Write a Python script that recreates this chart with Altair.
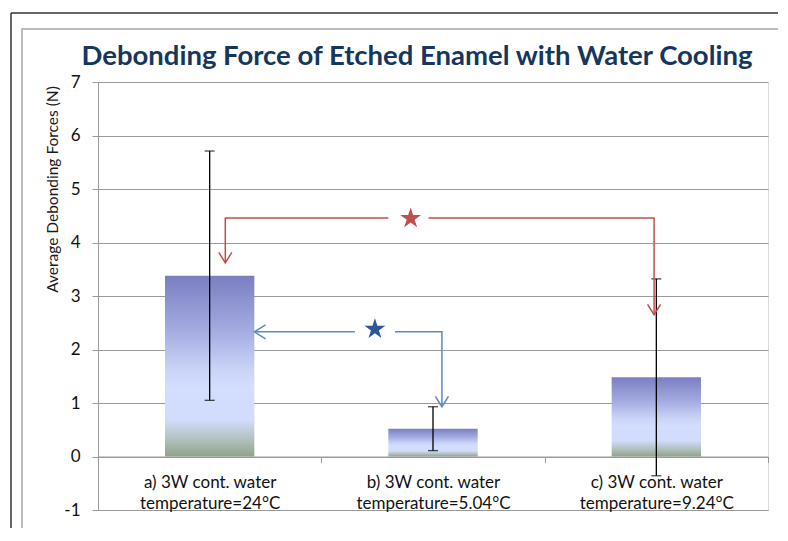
import json
import altair as alt
import pandas as pd

# ---------------- data ----------------
title_text = "Debonding Force of Etched Enamel with Water Cooling"
line1 = ["a) 3W cont. water", "b) 3W cont. water", "c) 3W cont. water"]
line2 = ["temperature=24°C", "temperature=5.04°C", "temperature=9.24°C"]
centers = [0.5, 1.5, 2.5]
means = [3.38, 0.52, 1.48]
errors = [2.33, 0.41, 1.84]
boundaries = [0, 1, 2, 3]
y_ticks = [-1, 0, 1, 2, 3, 4, 5, 6, 7]

# significance brackets (data coordinates)
red_seg = ["r1", "r1", "r1", "r2", "r2", "r2"]
red_x = [0.57, 0.57, 1.30, 1.48, 2.49, 2.49]
red_y = [3.62, 4.46, 4.46, 4.46, 4.46, 2.65]
blue_seg = ["b1", "b1", "b2", "b2", "b2"]
blue_x = [0.70, 1.15, 1.33, 1.54, 1.54]
blue_y = [2.33, 2.33, 2.33, 2.33, 0.93]
red_star = (1.40, 4.45)
blue_star = (1.24, 2.38)
red_arrows_x = [0.57, 2.49]
red_arrows_y = [3.62, 2.65]
blue_left_arrow = (0.70, 2.33)
blue_down_arrow = (1.54, 0.93)

FONT = "Lato"
GRID = "#9a9a9a"
RED = "#C0504D"
BLUE_LINE = "#5B8AC0"
BLUE_STAR = "#2F5597"
HALF = 0.2

bars_df = pd.DataFrame({
    "center": centers,
    "lo": [c - HALF for c in centers],
    "hi": [c + HALF for c in centers],
    "mean": means,
    "low": [m - e for m, e in zip(means, errors)],
    "high": [m + e for m, e in zip(means, errors)],
})
caps_df = pd.DataFrame({
    "center": centers + centers,
    "v": list(bars_df["low"]) + list(bars_df["high"]),
})

lines_df = pd.DataFrame({
    "seg": red_seg + blue_seg,
    "x": red_x + blue_x,
    "y": red_y + blue_y,
    "col": [RED] * len(red_seg) + [BLUE_LINE] * len(blue_seg),
    "ord": list(range(len(red_seg) + len(blue_seg))),
})

# label expression built from the arrays
parts = []
for c, a, b in zip(centers, line1, line2):
    parts.append(f"datum.value == {c} ? [{json.dumps(a)}, {json.dumps(b)}] : ")
label_expr = "".join(parts) + "''"

xscale = alt.Scale(domain=[0, 3], nice=False, zero=False)
yscale = alt.Scale(domain=[-1, 7], nice=False)

gradient = alt.LinearGradient(
    gradient="linear", x1=0, y1=0, x2=0, y2=1,
    stops=[
        alt.GradientStop(color="#7A7FC0", offset=0.0),
        alt.GradientStop(color="#A3ABE1", offset=0.3),
        alt.GradientStop(color="#CAD4F7", offset=0.52),
        alt.GradientStop(color="#D3DDFD", offset=0.62),
        alt.GradientStop(color="#D1DBFB", offset=0.8),
        alt.GradientStop(color="#B3C2C2", offset=0.9),
        alt.GradientStop(color="#8FA38B", offset=1.0),
    ],
)

x_axis = alt.Axis(
    values=sorted(boundaries + centers), labelExpr=label_expr,
    offset=-53.5, grid=False, title=None,
    domainColor=GRID, domainWidth=1,
    tickColor=alt.condition("datum.value % 1 == 0", alt.value(GRID), alt.value("transparent")),
    tickSize=6, labelPadding=12, labelFont=FONT, labelFontSize=17,
    labelColor="#111111", labelLineHeight=21, labelOverlap=False, labelFlush=False,
    labelBaseline="top",
)
y_axis = alt.Axis(
    values=y_ticks, labelExpr="'' + datum.value", title="Average Debonding Forces (N)", grid=True,
    gridColor=GRID, gridWidth=1, domainColor=GRID, tickColor=GRID, tickSize=6,
    labelPadding=12, labelFont=FONT, labelFontSize=17, labelColor="#111111",
    titleFont=FONT, titleFontSize=15.5, titleFontWeight="normal", titleColor="#1a1a1a",
    titleX=-46, titleY=107, titleAngle=-90, titleAlign="center", titleBaseline="middle",
)

one = pd.DataFrame({"k": [0]})

frame_inner = alt.Chart(one).mark_rect(fillOpacity=0, stroke="#A6A6A6", strokeWidth=1.5).encode(
    x=alt.value(-76), x2=alt.value(720), y=alt.value(-53), y2=alt.value(449))
frame_left = alt.Chart(one).mark_rule(color="#333333", strokeWidth=1.5).encode(
    x=alt.value(-87), y=alt.value(-69), y2=alt.value(460))
frame_top = alt.Chart(one).mark_rule(color="#333333", strokeWidth=1.5).encode(
    x=alt.value(-87), x2=alt.value(720), y=alt.value(-69))

title = alt.Chart(pd.DataFrame({"t": [title_text]})).mark_text(
    font=FONT, fontSize=27.5, fontWeight="bold", color="#17365D",
    align="center", baseline="alphabetic",
).encode(text="t:N", x=alt.value(319), y=alt.value(-17))

bars = alt.Chart(bars_df).mark_bar(color=gradient).encode(
    x=alt.X("lo:Q", scale=xscale, axis=x_axis),
    x2="hi:Q",
    y=alt.Y("mean:Q", scale=yscale, axis=y_axis),
    y2=alt.datum(0),
)
err = alt.Chart(bars_df).mark_rule(color="#000000", strokeWidth=1.3).encode(
    x="center:Q", y="low:Q", y2="high:Q")
caps = alt.Chart(caps_df).mark_tick(orient="horizontal", size=10, thickness=1.3, color="#000000").encode(
    x="center:Q", y="v:Q")

lines = alt.Chart(lines_df).mark_line(strokeWidth=1.5).encode(
    x="x:Q", y="y:Q", detail="seg:N", order="ord:Q",
    color=alt.Color("col:N", scale=None))

STAR = "M0,-1L0.2245,-0.309L0.951,-0.309L0.363,0.118L0.588,0.809L0,0.382L-0.588,0.809L-0.363,0.118L-0.951,-0.309L-0.2245,-0.309Z"
DOWN = "M-1,-1.6L0,0L1,-1.6"
LEFT = "M1.6,-1L0,0L1.6,1"

stars_df = pd.DataFrame({
    "x": [red_star[0], blue_star[0]], "y": [red_star[1], blue_star[1]],
    "col": [RED, BLUE_STAR],
})
stars = alt.Chart(stars_df).mark_point(shape=STAR, filled=True, size=480, opacity=1).encode(
    x="x:Q", y="y:Q", color=alt.Color("col:N", scale=None))

down_df = pd.DataFrame({
    "x": red_arrows_x + [blue_down_arrow[0]], "y": red_arrows_y + [blue_down_arrow[1]],
    "col": [RED, RED, BLUE_LINE],
})
down_arrows = alt.Chart(down_df).mark_point(shape=DOWN, filled=False, size=170, strokeWidth=1.5, opacity=1).encode(
    x="x:Q", y="y:Q", color=alt.Color("col:N", scale=None))
left_df = pd.DataFrame({"x": [blue_left_arrow[0]], "y": [blue_left_arrow[1]]})
left_arrow = alt.Chart(left_df).mark_point(shape=LEFT, filled=False, size=196, strokeWidth=1.5,
                                            opacity=1, color=BLUE_LINE).encode(x="x:Q", y="y:Q")

chart = alt.layer(
    frame_inner, frame_left, frame_top, title, bars, err, caps, lines, stars, down_arrows, left_arrow
).properties(
    width=670, height=428,
    padding={"left": 90, "top": 74, "right": 10, "bottom": 18},
    autosize=alt.AutoSizeParams(type="none"),
).configure_view(stroke=None).configure(background="#ffffff")

chart.save("out.html", embed_options={"renderer": "svg", "actions": False})
